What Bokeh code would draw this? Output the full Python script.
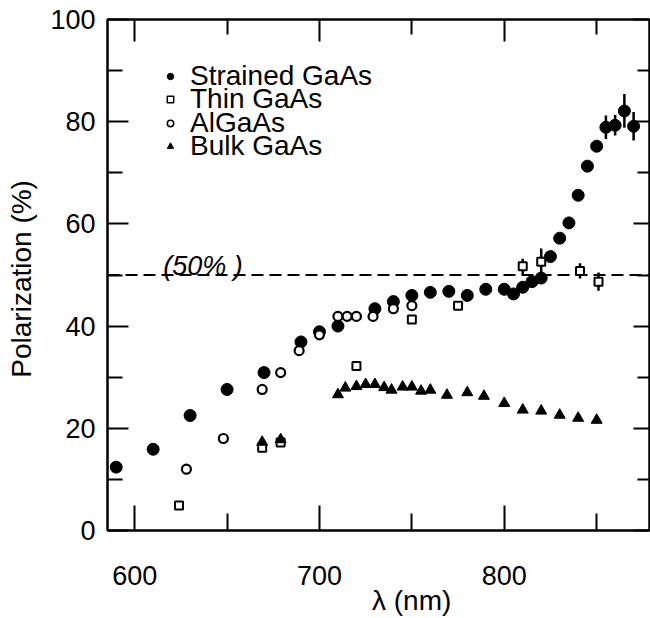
import numpy as np
from bokeh.plotting import figure
from bokeh.models import (Range1d, LinearAxis, FixedTicker, Span, Label,
                          Legend, LegendItem, ColumnDataSource)
from bokeh.embed import file_html
from bokeh.resources import INLINE

# Wavelength (nm) and polarization (%) for each photocathode type
strained_x = [590, 610, 630, 650, 670, 690, 700, 710, 730, 740, 750, 760, 770, 780,
              790, 800, 805, 810, 815, 820, 825, 830, 835, 840, 845, 850, 855, 860,
              865, 870]
strained_y = [12.4, 15.9, 22.5, 27.6, 30.9, 36.9, 38.9, 40.0, 43.4, 44.8, 46.0, 46.6,
              46.8, 46.0, 47.2, 47.2, 46.3, 47.6, 48.7, 49.4, 53.6, 57.2, 60.2, 65.6,
              71.3, 75.2, 78.9, 79.3, 82.1, 79.1]
strained_err = [0] * 26 + [2.3, 2.0, 3.3, 2.8]

thin_x = [624, 669, 679, 720, 750, 775, 810, 820, 841, 851]
thin_y = [4.9, 16.2, 17.2, 32.2, 41.3, 44.0, 51.7, 52.6, 50.8, 48.7]
thin_err = [0, 0, 0, 0, 0, 0, 1.5, 2.6, 1.5, 1.8]

algaas_x = [628, 648, 669, 679, 689, 700, 710, 715, 720, 729, 740, 750]
algaas_y = [12.0, 18.0, 27.6, 30.9, 35.2, 38.3, 41.9, 41.9, 41.9, 41.9, 43.4, 44.0]

bulk_x = [669, 679, 710, 714, 720, 725, 730, 735, 739, 745, 750, 755, 760, 769, 780,
          789, 800, 810, 820, 830, 840, 850]
bulk_y = [17.3, 17.8, 26.6, 27.9, 28.2, 28.6, 28.6, 28.0, 27.5, 28.1, 28.1, 27.3, 27.5,
          26.5, 27.0, 26.3, 24.9, 23.6, 23.4, 22.6, 22.0, 21.6]

series_names = ["Strained GaAs", "Thin GaAs", "AlGaAs", "Bulk GaAs"]

x_major = [600, 700, 800]
x_minor = [650, 750, 850]
y_major = [0, 20, 40, 60, 80, 100]
y_minor = [10, 30, 50, 70, 90]
reference_level = 50
x_title = "\u03bb  (nm)"
x_title_at = 752  # wavelength under which the x title is centred

FONT = "Liberation Sans"

p = figure(width=650, height=618, output_backend="svg", toolbar_location=None,
           x_range=Range1d(585.3, 878.6), y_range=Range1d(0, 100),
           min_border_left=107, min_border_right=1, min_border_top=19,
           min_border_bottom=86, x_axis_location=None, y_axis_location=None)
p.grid.visible = False
p.outline_line_color = "black"
p.outline_line_width = 2
p.background_fill_color = "white"
p.border_fill_color = "white"


def style_axis(ax, ticks, minor, tin, min_in, labels):
    ax.ticker = FixedTicker(ticks=ticks, minor_ticks=minor)
    ax.axis_line_color = "black"
    ax.axis_line_width = 2
    ax.major_tick_in = tin
    ax.major_tick_out = 0
    ax.minor_tick_in = min_in
    ax.minor_tick_out = 0
    ax.major_tick_line_width = 2
    ax.minor_tick_line_width = 2
    if labels:
        ax.major_label_text_font = FONT
        ax.major_label_text_font_size = "27px"
        ax.major_label_text_color = "black"
    else:
        # mirrored tick marks only, no numbers
        ax.major_label_overrides = {t: "" for t in ticks}
        ax.major_label_text_font_size = "0px"
        ax.major_label_standoff = 0
    ax.axis_label_text_font = FONT
    ax.axis_label_text_font_size = "28px"
    ax.axis_label_text_font_style = "normal"
    ax.axis_label_text_color = "black"


bottom = LinearAxis()
style_axis(bottom, x_major, x_minor, 25, 17, True)
bottom.major_label_standoff = 35
p.add_layout(bottom, "below")

# x title: a tick-less axis under the tick labels whose single label is the title,
# so it can sit off-centre under the 700-800 nm span
title_axis = LinearAxis(ticker=FixedTicker(ticks=[x_title_at], minor_ticks=[]),
                        major_label_overrides={x_title_at: x_title})
title_axis.axis_line_color = None
title_axis.major_tick_line_color = None
title_axis.minor_tick_line_color = None
title_axis.major_label_text_font = FONT
title_axis.major_label_text_font_size = "28px"
title_axis.major_label_text_color = "black"
title_axis.major_label_standoff = -9
p.add_layout(title_axis, "below")

top = LinearAxis()
style_axis(top, x_major, x_minor, 22, 15, False)
p.add_layout(top, "above")

left = LinearAxis()
style_axis(left, y_major, y_minor, 21, 15, True)
left.major_label_standoff = 12
left.axis_label = "Polarization  (%)"
left.axis_label_standoff = 10
p.add_layout(left, "left")

right = LinearAxis()
style_axis(right, y_major, y_minor, 16, 12, False)
p.add_layout(right, "right")

# 50 % reference line and its tag
p.add_layout(Span(location=reference_level, dimension="width", line_color="black",
                  line_width=2, line_dash="12 6"))
p.add_layout(Label(x=615.5, y=reference_level + 1.7, text="(50% )",
                   text_font=FONT, text_font_size="27px", text_font_style="italic",
                   text_color="black", text_baseline="alphabetic", text_align="left"))

# error bars
s_src = ColumnDataSource(dict(x=strained_x, y=strained_y,
                              lo=[v - e for v, e in zip(strained_y, strained_err)],
                              hi=[v + e for v, e in zip(strained_y, strained_err)]))
t_src = ColumnDataSource(dict(x=thin_x, y=thin_y,
                              lo=[v - e for v, e in zip(thin_y, thin_err)],
                              hi=[v + e for v, e in zip(thin_y, thin_err)]))
p.segment(x0="x", y0="lo", x1="x", y1="hi", source=s_src, line_color="black",
          line_width=2.5)
p.segment(x0="x", y0="lo", x1="x", y1="hi", source=t_src, line_color="black",
          line_width=2.5)

p.scatter("x", "y", source=s_src, marker="circle", size=12, fill_color="black",
          line_color="black", line_width=1)
p.scatter("x", "y", source=t_src, marker="square", size=8, fill_color="white",
          line_color="black", line_width=2)
p.scatter(bulk_x, bulk_y, marker="triangle", size=11, fill_color="black",
          line_color="black", line_width=1)
p.scatter(algaas_x, algaas_y, marker="circle", size=9, fill_color="white",
          line_color="black", line_width=2.2)

# legend keys: smaller symbols than the data points, one legend box per row
nan = [np.nan]
key_styles = [
    dict(marker="circle", size=8, fill_color="black", line_color="black"),
    dict(marker="square", size=7, fill_color="white", line_color="black", line_width=1.5),
    dict(marker="circle", size=7, fill_color="white", line_color="black", line_width=1.5),
    dict(marker="triangle", size=9, fill_color="black", line_color="black"),
]
row_top = 438
row_pitch = 23.3
for k, (name, style) in enumerate(zip(series_names, key_styles)):
    key = p.scatter(nan, nan, **style)
    lg = Legend(items=[LegendItem(label=name, renderers=[key])],
                location=(55, row_top - k * row_pitch), margin=0, padding=0,
                glyph_width=16, glyph_height=16, label_standoff=12,
                label_text_font=FONT, label_text_font_size="28px",
                label_text_color="black",
                border_line_color=None, background_fill_alpha=0)
    p.add_layout(lg)

open("out.html", "w").write(file_html(p, INLINE))
